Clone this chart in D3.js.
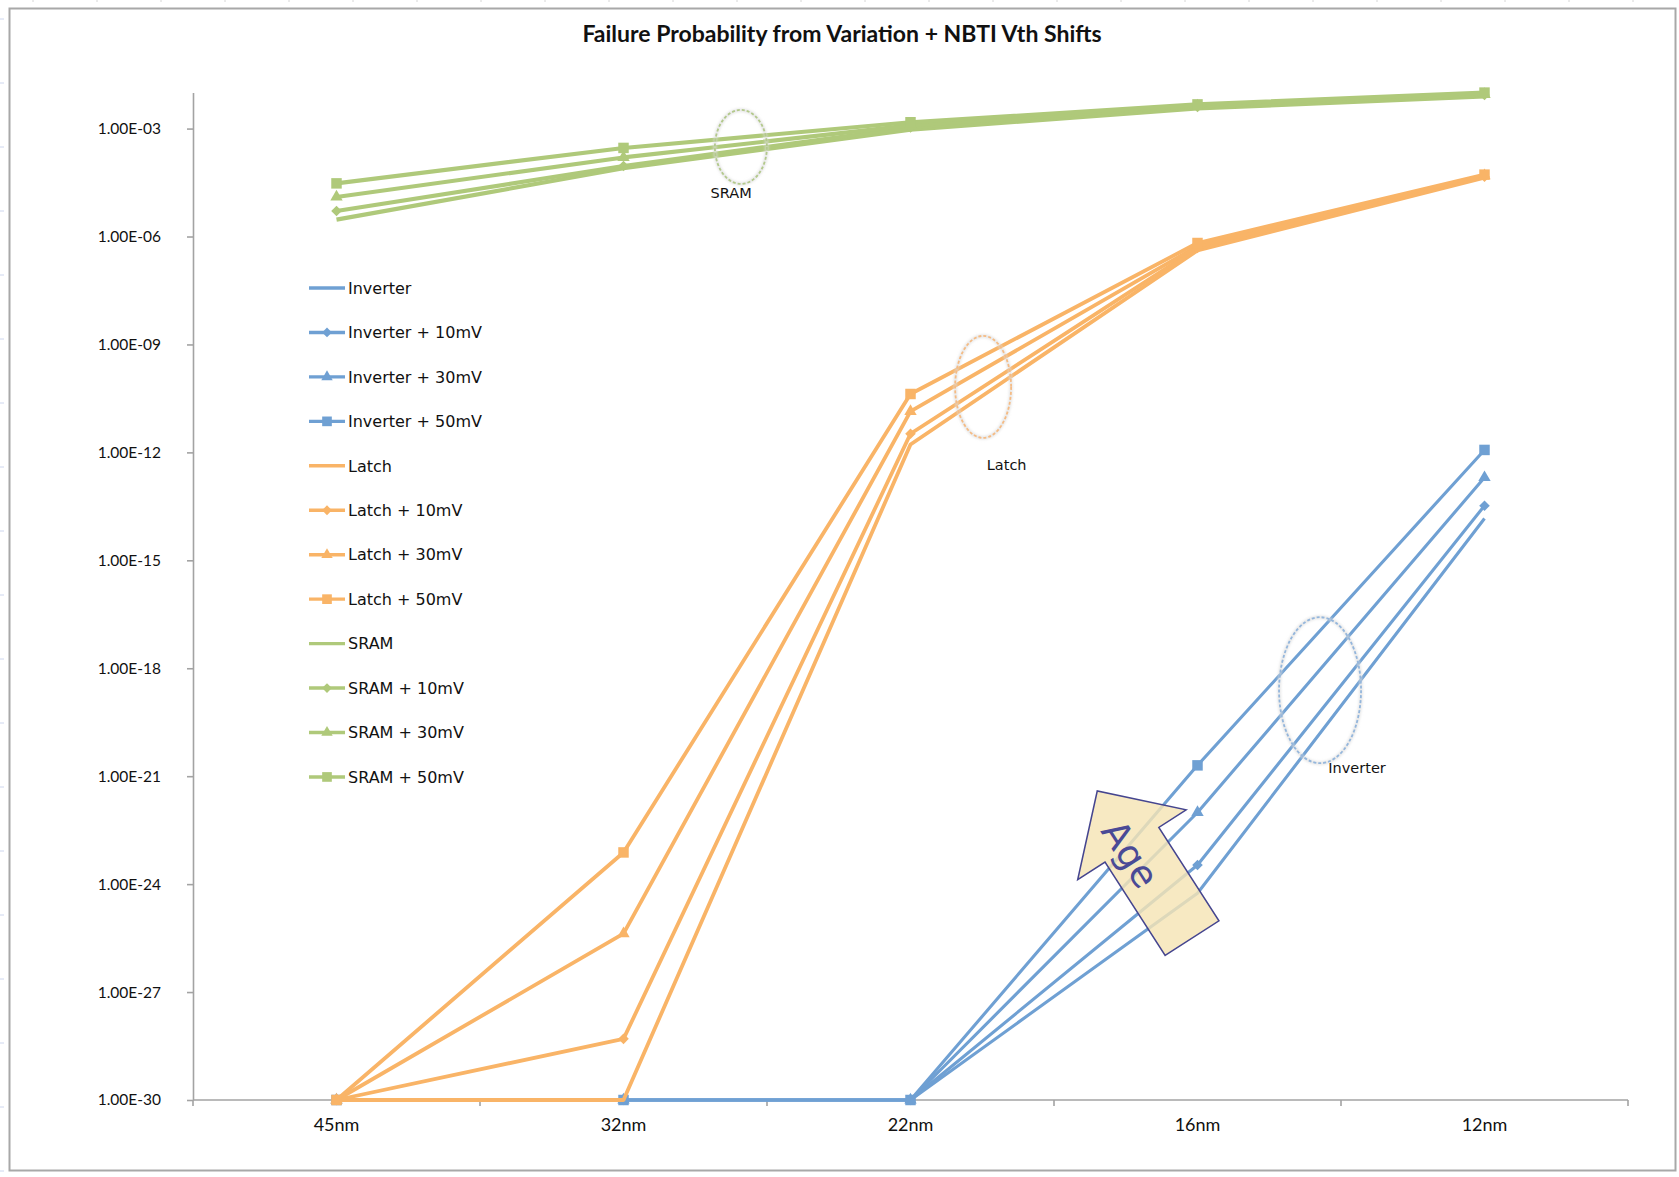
<!DOCTYPE html>
<html>
<head>
<meta charset="utf-8">
<script src="https://cdn.jsdelivr.net/npm/d3@7"></script>
<style>
  body { margin: 0; background: #fff; }
  svg { display: block; }
</style>
</head>
<body>
<svg id="chart"></svg>
<script>
// node sizes on the x axis
const categories = ["45nm", "32nm", "22nm", "16nm", "12nm"];

// failure probability
const inverter   = [1e-30, 1e-30, 1e-30, 5.6e-25, 1.45e-14];
const inverter10 = [1e-30, 1e-30, 1e-30, 3.4e-24, 3.3e-14];
const inverter30 = [1e-30, 1e-30, 1e-30, 9.8e-23, 2.0e-13];
const inverter50 = [1e-30, 1e-30, 1e-30, 2.0e-21, 1.17e-12];

const latch   = [1e-30, 1e-30,   1.66e-12, 4.1e-7, 4.3e-5];
const latch10 = [1e-30, 5.0e-29, 3.3e-12,  4.8e-7, 4.6e-5];
const latch30 = [1e-30, 4.2e-26, 1.38e-11, 5.4e-7, 4.9e-5];
const latch50 = [1e-30, 7.6e-24, 4.2e-11,  6.6e-7, 5.25e-5];

const sram   = [2.95e-6, 7.9e-5,  9.3e-4,  3.6e-3, 7.8e-3];
const sram10 = [5.1e-6,  9.1e-5,  1.07e-3, 4.0e-3, 8.6e-3];
const sram30 = [1.26e-5, 1.58e-4, 1.23e-3, 4.3e-3, 8.9e-3];
const sram50 = [3.0e-5,  2.9e-4,  1.5e-3,  4.7e-3, 1.0e-2];

const yTickLabels = ["1.00E-03", "1.00E-06", "1.00E-09", "1.00E-12", "1.00E-15",
  "1.00E-18", "1.00E-21", "1.00E-24", "1.00E-27", "1.00E-30"];

const title = "Failure Probability from Variation + NBTI Vth Shifts";

const width = 1679, height = 1177;
const blue = "#6fa0d3", orange = "#f9b467", green = "#afc97a";

const series = [
  { name: "Inverter",          values: inverter,   color: blue,   marker: null,       lw: 3.1 },
  { name: "Inverter + 10mV",   values: inverter10, color: blue,   marker: "diamond",  lw: 3.1 },
  { name: "Inverter + 30mV",   values: inverter30, color: blue,   marker: "triangle", lw: 3.1 },
  { name: "Inverter + 50mV",   values: inverter50, color: blue,   marker: "square",   lw: 3.1 },
  { name: "Latch",             values: latch,      color: orange, marker: null,       lw: 3.8 },
  { name: "Latch + 10mV",      values: latch10,    color: orange, marker: "diamond",  lw: 3.8 },
  { name: "Latch + 30mV",      values: latch30,    color: orange, marker: "triangle", lw: 3.8 },
  { name: "Latch + 50mV",      values: latch50,    color: orange, marker: "square",   lw: 3.8 },
  { name: "SRAM",              values: sram,       color: green,  marker: null,       lw: 4.1 },
  { name: "SRAM + 10mV",       values: sram10,     color: green,  marker: "diamond",  lw: 4.1 },
  { name: "SRAM + 30mV",       values: sram30,     color: green,  marker: "triangle", lw: 4.1 },
  { name: "SRAM + 50mV",       values: sram50,     color: green,  marker: "square",   lw: 4.1 },
];

const svg = d3.select("#chart").attr("width", width).attr("height", height);

svg.append("rect").attr("width", width).attr("height", height).attr("fill", "#fff");

// faint leftovers of the sheet grid around the chart box
svg.append("g").selectAll("line")
  .data(d3.range(19, height, 64))
  .join("line")
  .attr("x1", 0).attr("x2", 4).attr("y1", d => d).attr("y2", d => d)
  .attr("stroke", "#cdd6ee").attr("stroke-width", 1);
svg.append("g").selectAll("line")
  .data(d3.range(33, width, 64))
  .join("line")
  .attr("x1", d => d).attr("x2", d => d).attr("y1", 0).attr("y2", 2)
  .attr("stroke", "#d6d6d6").attr("stroke-width", 1);

// chart frame
svg.append("rect")
  .attr("x", 9.5).attr("y", 8.5).attr("width", 1666).attr("height", 1162)
  .attr("fill", "#fff").attr("stroke", "#a8a8a8").attr("stroke-width", 2);

const defs = svg.append("defs");
defs.append("filter").attr("id", "soft")
  .attr("x", "-30%").attr("y", "-30%").attr("width", "160%").attr("height", "160%")
  .append("feGaussianBlur").attr("stdDeviation", 1.6);

const x = d3.scaleBand().domain(categories).range([193, 1628]);
const y = d3.scaleLog().domain([1e-30, 1e-2]).range([1100, 92.6]);
const cx = c => x(c) + x.bandwidth() / 2;
// fractional category position, used for the annotations
const xAt = i => x.range()[0] + (i + 0.5) * x.step();

// title
svg.append("text")
  .attr("x", 842).attr("y", 42)
  .attr("text-anchor", "middle")
  .style("font-family", "Lato, 'Open Sans', sans-serif")
  .style("font-weight", "bold")
  .style("font-size", "23px")
  .attr("fill", "#111")
  .text(title);

// y axis
const yAxis = svg.append("g")
  .attr("transform", "translate(193,0)")
  .call(d3.axisLeft(y)
    .tickValues(yTickLabels.map(Number))
    .tickFormat((d, i) => yTickLabels[i])
    .tickSize(6).tickSizeOuter(0).tickPadding(26));
yAxis.selectAll("path, line").attr("stroke", "#a3a3a3").attr("stroke-width", 1.6);
yAxis.selectAll("text")
  .style("font-family", "Lato, sans-serif").style("font-size", "15.5px").attr("fill", "#111");

// x axis: category labels
const xAxis = svg.append("g")
  .attr("transform", "translate(0,1100)")
  .call(d3.axisBottom(x).tickSize(0).tickPadding(18));
xAxis.select(".domain").remove();
xAxis.selectAll("text")
  .style("font-family", "Lato, sans-serif").style("font-size", "18px").attr("fill", "#111");

// x axis line and the ticks between categories
svg.append("line")
  .attr("x1", x.range()[0]).attr("x2", x.range()[1]).attr("y1", 1100).attr("y2", 1100)
  .attr("stroke", "#a3a3a3").attr("stroke-width", 1.6);
svg.append("g").selectAll("line")
  .data([...categories.map(c => x(c)), x.range()[1]])
  .join("line")
  .attr("x1", d => d).attr("x2", d => d).attr("y1", 1100).attr("y2", 1106)
  .attr("stroke", "#a3a3a3").attr("stroke-width", 1.6);

const line = d3.line().x((d, i) => cx(categories[i])).y(d => y(d));

const symbolFor = { square: d3.symbolSquare, triangle: d3.symbolTriangle, diamond: d3.symbolSquare };
const sizeFor = { square: 110, triangle: 66, diamond: 56 };

function drawMarker(g, s, px, py, scale) {
  const k = scale || 1;
  g.append("path")
    .attr("d", d3.symbol(symbolFor[s.marker], sizeFor[s.marker] * k)())
    .attr("transform", `translate(${px},${py})` + (s.marker === "diamond" ? " rotate(45)" : ""))
    .attr("fill", s.color);
}

const plot = svg.append("g");
series.forEach(s => {
  const g = plot.append("g");
  g.append("path")
    .datum(s.values)
    .attr("d", line)
    .attr("fill", "none")
    .attr("stroke", s.color)
    .attr("stroke-width", s.lw)
    .attr("stroke-linejoin", "round");
  if (s.marker) {
    s.values.forEach((v, i) => drawMarker(g, s, cx(categories[i]), y(v)));
  }
});

// legend
const legend = svg.append("g");
series.forEach((s, i) => {
  const ly = 288 + i * 44.45;
  const g = legend.append("g");
  g.append("line")
    .attr("x1", 309).attr("x2", 345).attr("y1", ly).attr("y2", ly)
    .attr("stroke", s.color).attr("stroke-width", 3.4);
  if (s.marker) drawMarker(g, s, 327, ly, 0.85);
  g.append("text")
    .attr("x", 348).attr("y", ly).attr("dy", "0.36em")
    .style("font-family", "'DejaVu Sans', sans-serif").style("font-size", "16px")
    .attr("fill", "#111")
    .text(s.name);
});

// group annotations: dashed ellipses with a label
const groups = [
  { label: "SRAM",     at: 1.409, v: 10 ** -3.51,  rx: 26, ry: 37, color: "#b3c98c", lx: 1.375, lv: 10 ** -4.79 },
  { label: "Latch",    at: 2.253, v: 10 ** -10.18, rx: 28, ry: 51, color: "#f5bb84", lx: 2.335, lv: 10 ** -12.35 },
  { label: "Inverter", at: 3.427, v: 10 ** -18.61, rx: 41, ry: 73, color: "#94b6dc", lx: 3.556, lv: 10 ** -20.78 },
];
const ann = svg.append("g");
groups.forEach(gr => {
  ann.append("ellipse")
    .attr("cx", xAt(gr.at)).attr("cy", y(gr.v)).attr("rx", gr.rx).attr("ry", gr.ry)
    .attr("fill", "none").attr("stroke", "#dcdcdc").attr("stroke-width", 2.5)
    .attr("filter", "url(#soft)");
  ann.append("ellipse")
    .attr("cx", xAt(gr.at)).attr("cy", y(gr.v)).attr("rx", gr.rx).attr("ry", gr.ry)
    .attr("fill", "none").attr("stroke", gr.color).attr("stroke-width", 1.8)
    .attr("stroke-dasharray", "3,2");
  ann.append("text")
    .attr("x", xAt(gr.lx)).attr("y", y(gr.lv)).attr("dy", "0.36em")
    .attr("text-anchor", "middle")
    .style("font-family", "'DejaVu Sans', sans-serif").style("font-size", "14.5px")
    .attr("fill", "#111")
    .text(gr.label);
});

// "Age" arrow, built pointing up and turned along the inverter lines
const shaft = 32, head = 64.5, shaftLen = 111, headLen = 64;
const arrowPts = [
  [-shaft, 0], [shaft, 0], [shaft, -shaftLen], [head, -shaftLen],
  [0, -shaftLen - headLen], [-head, -shaftLen], [-shaft, -shaftLen],
];
const arrow = svg.append("g")
  .attr("transform", `translate(${xAt(2.981)},${y(10 ** -25.5)}) rotate(-32.8)`);
arrow.append("path")
  .attr("d", d3.line()(arrowPts) + "Z")
  .attr("fill", "#f5e4b5").attr("fill-opacity", 0.82)
  .attr("stroke", "#45458f").attr("stroke-width", 1.5)
  .attr("stroke-linejoin", "miter");
arrow.append("text")
  .attr("transform", "translate(-6,-104) rotate(90)")
  .attr("text-anchor", "middle").attr("dy", "0.36em")
  .style("font-family", "'DejaVu Sans', sans-serif").style("font-size", "37px")
  .attr("fill", "#4a4a96")
  .text("Age");
</script>
</body>
</html>
